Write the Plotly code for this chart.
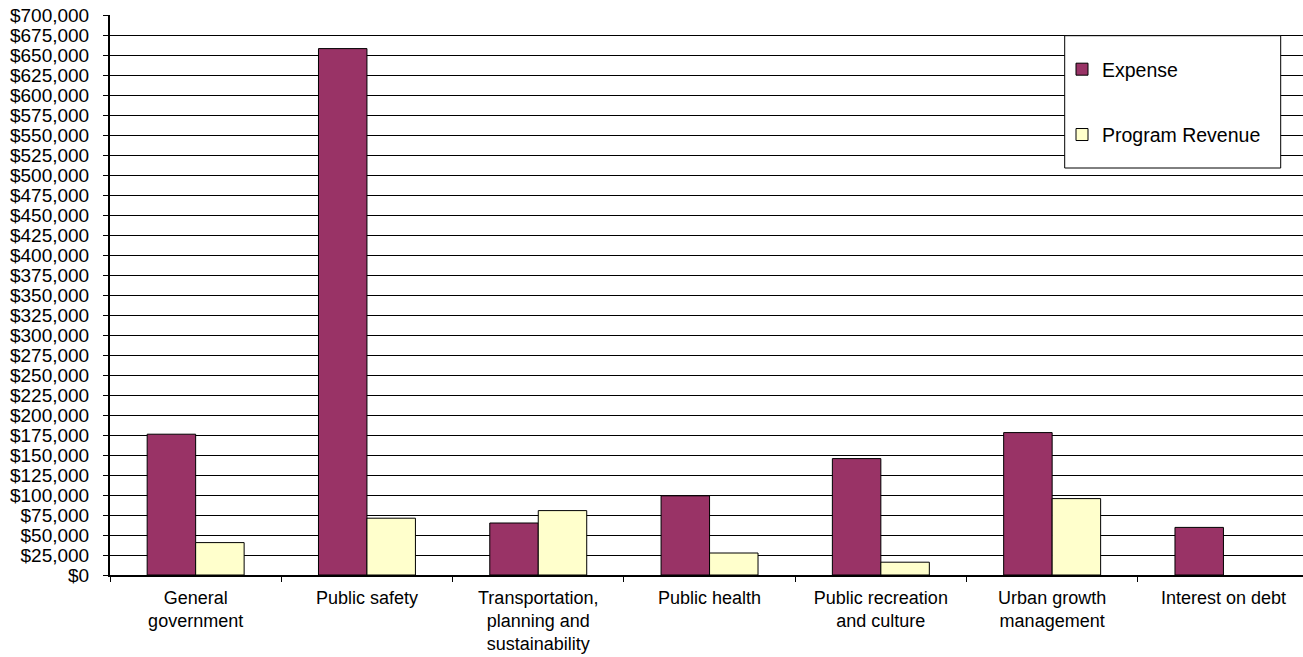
import plotly.graph_objects as go

categories = [
    "General<br>government",
    "Public safety",
    "Transportation,<br>planning and<br>sustainability",
    "Public health",
    "Public recreation<br>and culture",
    "Urban growth<br>management",
    "Interest on debt",
]
expense = [176000, 658000, 65000, 99000, 145500, 178000, 59500]
program_revenue = [40500, 71000, 80500, 27500, 16000, 95500, 0]

FONT = "Liberation Sans, Arial, sans-serif"

fig = go.Figure()
fig.add_trace(go.Bar(
    x=categories, y=expense, name="Expense",
    marker=dict(color="#993366", line=dict(color="black", width=1)),
    legendgroup="a",
))
fig.add_trace(go.Bar(
    x=categories, y=program_revenue, name="Program Revenue",
    marker=dict(color="#FFFFCC",
                line=dict(color="black", width=[0 if v == 0 else 1 for v in program_revenue])),
    legendgroup="b",
))

W, H = 1303, 657
L, T, B = 110, 15, 82
plot_w = W - L
plot_h = H - T - B
cat_w = 171.3

def px_x(p):
    return (p - L) / plot_w

def px_y(p):
    return (H - B - p) / plot_h

fig.add_shape(
    type="rect", xref="paper", yref="paper",
    x0=px_x(1064.7), x1=px_x(1280.7), y0=px_y(168), y1=px_y(35.7),
    line=dict(color="black", width=1), fillcolor="white", layer="above",
)

fig.update_layout(
    width=W, height=H,
    margin=dict(l=L, r=0, t=T, b=B, pad=0),
    paper_bgcolor="white", plot_bgcolor="white",
    barmode="group", bargap=0.434, bargroupgap=0,
    font=dict(family=FONT, size=17, color="black"),
    showlegend=True,
    legend=dict(
        x=px_x(1062), xanchor="left",
        y=px_y(50), yanchor="top",
        bgcolor="rgba(0,0,0,0)", borderwidth=0,
        font=dict(size=19.5, family=FONT, color="black"),
        traceorder="grouped", tracegroupgap=37,
    ),
    xaxis=dict(
        type="category", automargin=False,
        range=[-0.5, -0.5 + plot_w / cat_w],
        showline=True, linecolor="black", linewidth=2,
        ticks="outside", tickson="boundaries", ticklen=5, tickcolor="black", tickwidth=1,
        showgrid=False, tickfont=dict(size=18, family=FONT),
        ticklabelstandoff=5,
    ),
    yaxis=dict(
        range=[0, 700000], dtick=25000, tickformat="$,.0f", automargin=False,
        showline=True, linecolor="black", linewidth=2,
        ticks="outside", ticklen=5, tickcolor="black", tickwidth=1,
        showgrid=True, gridcolor="black", gridwidth=1,
        zeroline=False,
        tickfont=dict(size=19, family=FONT),
        ticklabelstandoff=10,
    ),
)

fig.write_html("out.html")
